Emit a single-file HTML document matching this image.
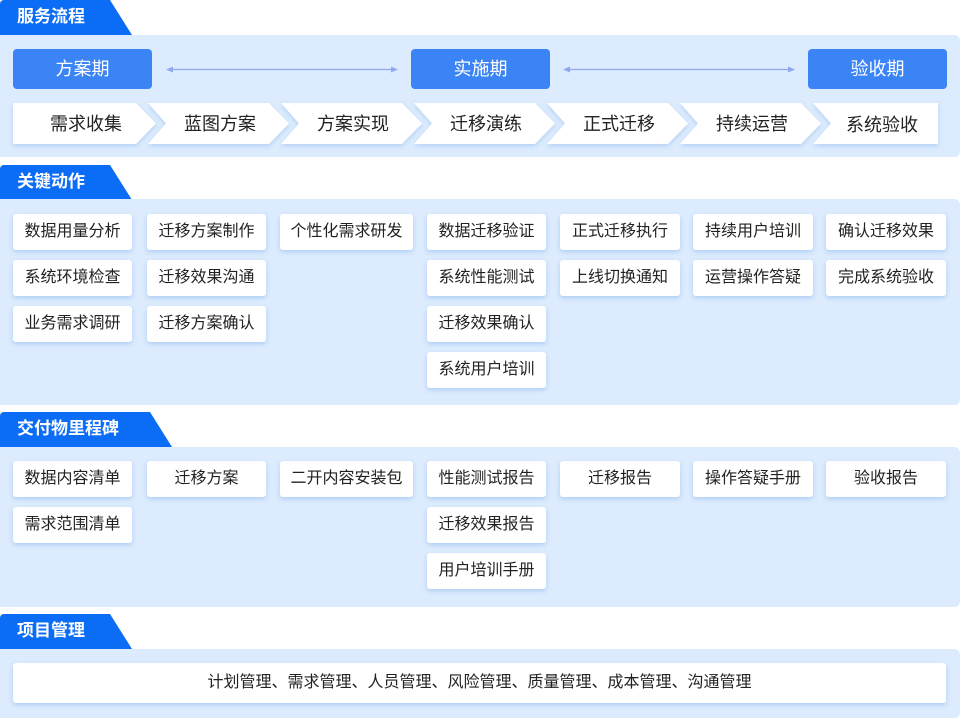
<!DOCTYPE html>
<html><head><meta charset="utf-8"><style>
*{margin:0;padding:0;box-sizing:border-box}
body{width:960px;height:718px;background:#fff;position:relative;overflow:hidden;font-family:"Liberation Sans","Noto Sans CJK SC",sans-serif}
.tab{position:absolute;left:0;width:132px;height:35px;background:#0b6cf6;clip-path:polygon(0 0,110px 0,132px 100%,0 100%);border-radius:4px 0 0 0;color:#fff;font-weight:bold;font-size:17px;line-height:33px;padding-left:17px}
.panel{position:absolute;left:0;width:960px;background:#dcebfd;border-radius:0 6px 6px 0}
.ph{position:absolute;top:49px;width:139px;height:40px;background:#3a84f6;border-radius:4px;color:#fff;font-size:18px;text-align:center;line-height:40px}
.c{position:absolute;height:36px;background:#fff;border-radius:3px;box-shadow:0 2px 4px rgba(120,170,235,.45);font-size:16px;color:#222;text-align:center;line-height:36px}
</style></head><body>
<div class="tab" style="top:0">服务流程</div>
<div class="panel" style="top:35px;height:122px"></div>
<div class="ph" style="left:13px">方案期</div>
<div class="ph" style="left:411px">实施期</div>
<div class="ph" style="left:808px">验收期</div>
<svg style="position:absolute;left:0;top:0" width="960" height="160">
<defs><filter id="s" x="-10%" y="-20%" width="120%" height="150%"><feDropShadow dx="0" dy="2" stdDeviation="2" flood-color="#8ab6ee" flood-opacity=".5"/></filter></defs>
<g stroke="#8ea8f2" stroke-width="1.3" fill="#8ea8f2">
<line x1="170" y1="69.5" x2="394" y2="69.5"/><polygon points="166,69.5 173,66.5 173,72.5" stroke="none"/><polygon points="398,69.5 391,66.5 391,72.5" stroke="none"/>
<line x1="567" y1="69.5" x2="791" y2="69.5"/><polygon points="563,69.5 570,66.5 570,72.5" stroke="none"/><polygon points="795,69.5 788,66.5 788,72.5" stroke="none"/>
</g>
<g fill="#fff" filter="url(#s)">
<polygon points="13,103 136,103 156,123.5 136,144 13,144"/>
<polygon points="148,103 269,103 289,123.5 269,144 148,144 166,123.5"/>
<polygon points="281,103 402,103 422,123.5 402,144 281,144 299,123.5"/>
<polygon points="414,103 535,103 555,123.5 535,144 414,144 432,123.5"/>
<polygon points="547,103 668,103 688,123.5 668,144 547,144 565,123.5"/>
<polygon points="680,103 801,103 821,123.5 801,144 680,144 698,123.5"/>
<polygon points="813,103 938,103 938,144 813,144 831,123.5"/>
</g>
<g font-size="18" fill="#222" text-anchor="middle" font-family="Liberation Sans,Noto Sans CJK SC,sans-serif">
<text x="86" y="130">需求收集</text><text x="220" y="130">蓝图方案</text><text x="353" y="130">方案实现</text><text x="486" y="130">迁移演练</text><text x="619" y="130">正式迁移</text><text x="752" y="130">持续运营</text><text x="882" y="131">系统验收</text>
</g></svg>

<div class="tab" style="top:165px">关键动作</div>
<div class="panel" style="top:199px;height:206px"></div>
<div class="c" style="left:13px;top:214px;width:119px">数据用量分析</div>
<div class="c" style="left:13px;top:260px;width:119px">系统环境检查</div>
<div class="c" style="left:13px;top:306px;width:119px">业务需求调研</div>
<div class="c" style="left:147px;top:214px;width:119px">迁移方案制作</div>
<div class="c" style="left:147px;top:260px;width:119px">迁移效果沟通</div>
<div class="c" style="left:147px;top:306px;width:119px">迁移方案确认</div>
<div class="c" style="left:280px;top:214px;width:133px">个性化需求研发</div>
<div class="c" style="left:427px;top:214px;width:119px">数据迁移验证</div>
<div class="c" style="left:427px;top:260px;width:119px">系统性能测试</div>
<div class="c" style="left:427px;top:306px;width:119px">迁移效果确认</div>
<div class="c" style="left:427px;top:352px;width:119px">系统用户培训</div>
<div class="c" style="left:560px;top:214px;width:120px">正式迁移执行</div>
<div class="c" style="left:560px;top:260px;width:120px">上线切换通知</div>
<div class="c" style="left:693px;top:214px;width:120px">持续用户培训</div>
<div class="c" style="left:693px;top:260px;width:120px">运营操作答疑</div>
<div class="c" style="left:826px;top:214px;width:120px">确认迁移效果</div>
<div class="c" style="left:826px;top:260px;width:120px">完成系统验收</div>

<div class="tab" style="top:412px;width:172px;clip-path:polygon(0 0,150px 0,172px 100%,0 100%)">交付物里程碑</div>
<div class="panel" style="top:447px;height:160px"></div>
<div class="c" style="left:13px;top:461px;width:119px">数据内容清单</div>
<div class="c" style="left:13px;top:507px;width:119px">需求范围清单</div>
<div class="c" style="left:147px;top:461px;width:119px">迁移方案</div>
<div class="c" style="left:280px;top:461px;width:133px">二开内容安装包</div>
<div class="c" style="left:427px;top:461px;width:119px">性能测试报告</div>
<div class="c" style="left:427px;top:507px;width:119px">迁移效果报告</div>
<div class="c" style="left:427px;top:553px;width:119px">用户培训手册</div>
<div class="c" style="left:560px;top:461px;width:120px">迁移报告</div>
<div class="c" style="left:693px;top:461px;width:120px">操作答疑手册</div>
<div class="c" style="left:826px;top:461px;width:120px">验收报告</div>

<div class="tab" style="top:614px">项目管理</div>
<div class="panel" style="top:649px;height:69px"></div>
<div class="c" style="left:13px;top:663px;width:933px;height:40px;line-height:40px">计划管理、需求管理、人员管理、风险管理、质量管理、成本管理、沟通管理</div>
</body></html>
